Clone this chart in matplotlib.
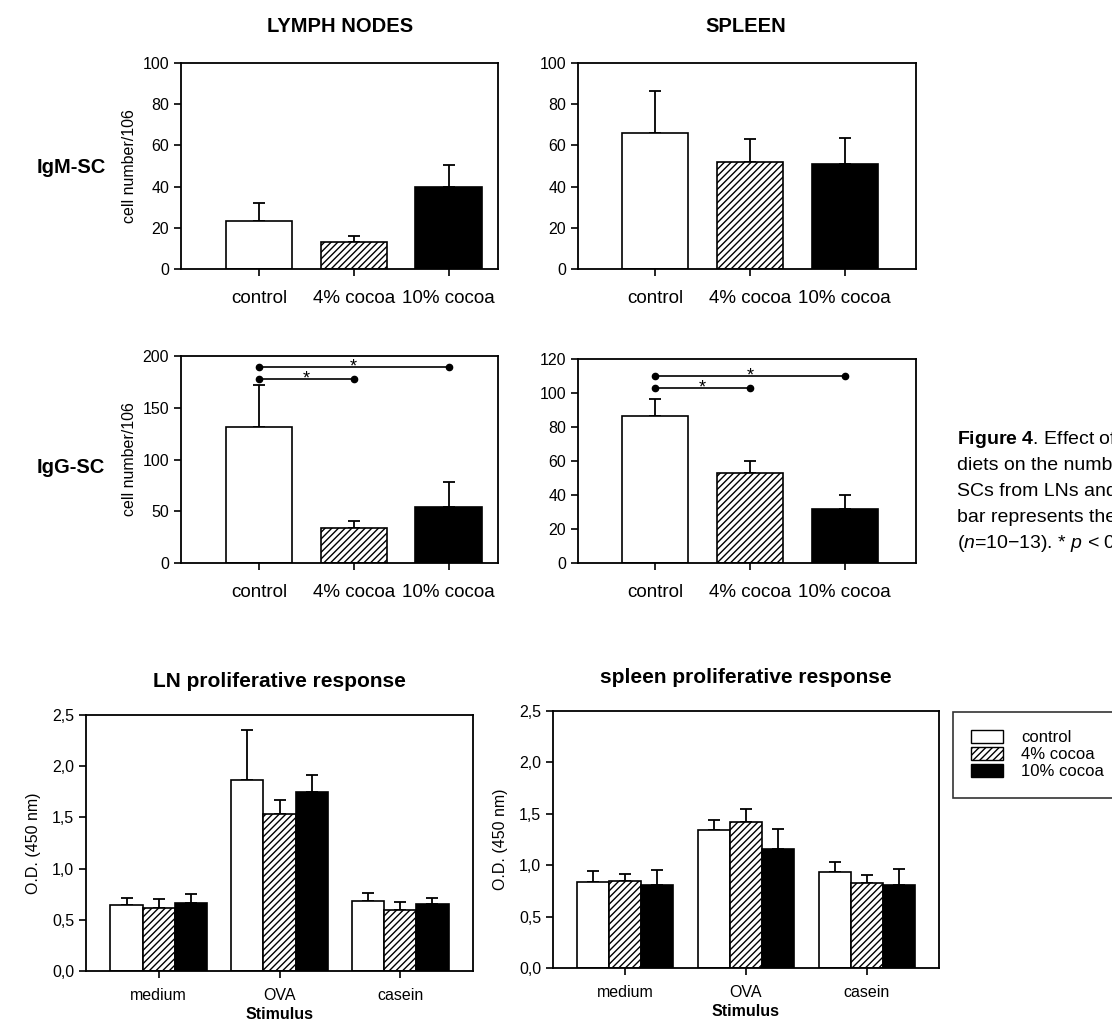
import matplotlib
matplotlib.use("Agg")
import matplotlib.pyplot as plt
from matplotlib.patches import Patch

plt.rcParams['font.family'] = ['Liberation Sans', 'DejaVu Sans']
plt.rcParams['mathtext.fontset'] = 'custom'
plt.rcParams['mathtext.rm'] = 'Liberation Sans'
plt.rcParams['mathtext.it'] = 'Liberation Sans:italic'
plt.rcParams['mathtext.bf'] = 'Liberation Sans:bold'
plt.rcParams['hatch.linewidth'] = 1.0

# data
groups = ["control", "4% cocoa", "10% cocoa"]
igm_ln = [23.5, 13, 40]
igm_ln_err = [8.5, 3, 10.5]
igm_sp = [66, 52, 51]
igm_sp_err = [20.5, 11, 12.5]
igg_ln = [131, 34, 54]
igg_ln_err = [41, 7, 24]
igg_sp = [86.5, 53, 32]
igg_sp_err = [10, 7, 8]

stimuli = ["medium", "OVA", "casein"]
ln_prol = {"control": [0.64, 1.87, 0.68],
           "4% cocoa": [0.62, 1.53, 0.60],
           "10% cocoa": [0.66, 1.75, 0.65]}
ln_prol_err = {"control": [0.07, 0.48, 0.085],
               "4% cocoa": [0.08, 0.14, 0.07],
               "10% cocoa": [0.095, 0.16, 0.06]}
sp_prol = {"control": [0.835, 1.34, 0.93],
           "4% cocoa": [0.845, 1.42, 0.825],
           "10% cocoa": [0.805, 1.16, 0.805]}
sp_prol_err = {"control": [0.105, 0.10, 0.10],
               "4% cocoa": [0.07, 0.13, 0.075],
               "10% cocoa": [0.145, 0.19, 0.155]}

styles = {"control": dict(facecolor="white", hatch=None),
          "4% cocoa": dict(facecolor="white", hatch="/////"),
          "10% cocoa": dict(facecolor="black", hatch=None)}

W, H = 1112, 1032
fig = plt.figure(figsize=(W / 100, H / 100), dpi=100)


def px(l, t, r, b):
    return [l / W, 1 - b / H, (r - l) / W, (b - t) / H]


def style_ax(ax, xsize=11.5):
    for s in ax.spines.values():
        s.set_linewidth(1.3)
    ax.tick_params(direction="out", length=5, width=1.2, labelsize=11.5,
                   top=False, right=False)
    ax.tick_params(axis="x", labelsize=xsize)


def cell_panel(rect, vals, errs, ymax, ystep, xlim, ylabel=True):
    ax = fig.add_axes(px(*rect))
    for i, g in enumerate(groups):
        st = styles[g]
        ax.bar(i, vals[i], width=0.7, facecolor=st["facecolor"],
               hatch=st["hatch"], edgecolor="black", linewidth=1.2, zorder=2)
        ax.errorbar(i, vals[i], yerr=[[0], [errs[i]]], fmt="none",
                    ecolor="black", elinewidth=1.3, capsize=4, capthick=1.3,
                    zorder=1)
    ax.set_xlim(*xlim)
    ax.set_ylim(0, ymax)
    ax.set_yticks(range(0, ymax + 1, ystep))
    ax.set_xticks(range(len(groups)))
    ax.set_xticklabels(groups)
    ax.tick_params(axis="x", pad=10)
    if ylabel:
        ax.set_ylabel("cell number/106", fontsize=11.5, labelpad=4)
    style_ax(ax, xsize=13.5)
    return ax


def bracket(ax, x0, x1, y):
    ax.plot([x0, x1], [y, y], color="black", lw=1.2, marker="o",
            markersize=4.5, zorder=3, clip_on=False)
    ax.text((x0 + x1) / 2, y, "*", ha="center", va="center", fontsize=13)


cell_panel((181, 63, 498, 269), igm_ln, igm_ln_err, 100, 20, (-0.82, 2.52))
cell_panel((578, 63, 916, 269), igm_sp, igm_sp_err, 100, 20, (-0.81, 2.75),
           ylabel=False)
a3 = cell_panel((181, 356, 498, 563), igg_ln, igg_ln_err, 200, 50,
                (-0.82, 2.52))
bracket(a3, 0, 1, 178)
bracket(a3, 0, 2, 189)
a4 = cell_panel((578, 359, 916, 563), igg_sp, igg_sp_err, 120, 20,
                (-0.81, 2.75), ylabel=False)
bracket(a4, 0, 1, 103)
bracket(a4, 0, 2, 110)


def prol_panel(rect, vals, errs, title):
    ax = fig.add_axes(px(*rect))
    bw = 0.265
    for k, g in enumerate(groups):
        st = styles[g]
        xs = [i + (k - 1) * bw for i in range(len(stimuli))]
        ax.bar(xs, vals[g], width=bw, facecolor=st["facecolor"],
               hatch=st["hatch"], edgecolor="black", linewidth=1.2, zorder=2)
        ax.errorbar(xs, vals[g], yerr=[[0] * 3, errs[g]], fmt="none",
                    ecolor="black", elinewidth=1.3, capsize=4, capthick=1.3,
                    zorder=1)
    ax.set_xlim(-0.6, 2.6)
    ax.set_ylim(0, 2.5)
    yt = [0, 0.5, 1.0, 1.5, 2.0, 2.5]
    ax.set_yticks(yt)
    ax.set_yticklabels([f"{v:.1f}".replace(".", ",") for v in yt])
    ax.set_xticks(range(len(stimuli)))
    ax.set_xticklabels(stimuli)
    ax.tick_params(axis="x", pad=7)
    ax.set_ylabel("O.D. (450 nm)", fontsize=11.5, labelpad=8)
    ax.set_xlabel("Stimulus", fontsize=11.5, fontweight="bold", labelpad=3)
    ax.set_title(title, fontsize=15, fontweight="bold", pad=20)
    style_ax(ax)
    return ax


prol_panel((86, 715, 473, 971), ln_prol, ln_prol_err,
           "LN proliferative response")
prol_panel((553, 711, 939, 968), sp_prol, sp_prol_err,
           "spleen proliferative response")

# column / row headers
fig.text(340 / W, 1 - 27 / H, "LYMPH NODES", ha="center", va="center",
         fontsize=14.5, fontweight="bold")
fig.text(746 / W, 1 - 27 / H, "SPLEEN", ha="center", va="center",
         fontsize=14.5, fontweight="bold")
fig.text(37 / W, 1 - 167 / H, "IgM-SC", ha="left", va="center",
         fontsize=14.5, fontweight="bold")
fig.text(37 / W, 1 - 468 / H, "IgG-SC", ha="left", va="center",
         fontsize=14.5, fontweight="bold")

# legend
handles = [Patch(facecolor=styles[g]["facecolor"], hatch=styles[g]["hatch"],
                 edgecolor="black", linewidth=1.0) for g in groups]
leg = fig.legend(handles, groups, loc="upper left",
                 bbox_to_anchor=(953 / W, 1 - 712 / H), fontsize=12,
                 frameon=True, fancybox=False, handlelength=1.9,
                 handleheight=0.8, labelspacing=0.1, borderpad=1.1,
                 handletextpad=1.1, borderaxespad=0)
leg.get_frame().set_edgecolor("black")
leg.get_frame().set_linewidth(1.2)

# caption (runs off the right edge as in the original)
cap_lines = [r"$\bf{Figure\ 4}$. Effect of",
             "diets on the number",
             "SCs from LNs and",
             "bar represents the",
             r"($\it{n}$=10$-$13). * $\it{p}$ < 0.05"]
ys = [440, 466, 492, 518, 544]
for line, y in zip(cap_lines, ys):
    fig.text(957 / W, 1 - y / H, line, fontsize=14, va="center", ha="left")

fig.savefig("out.png", dpi=100)
